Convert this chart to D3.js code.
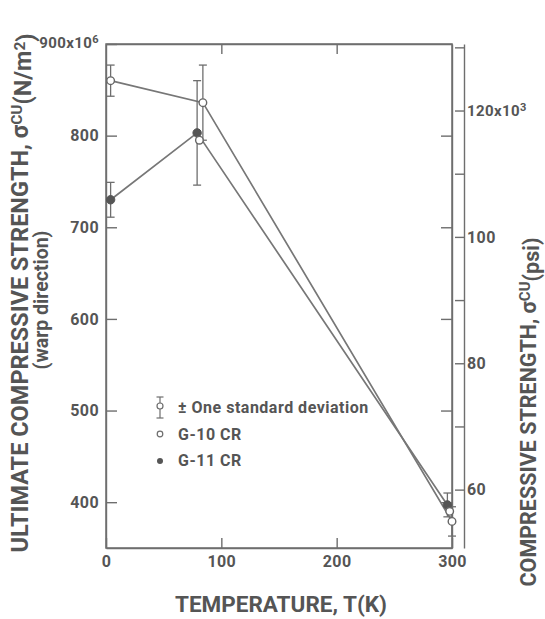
<!DOCTYPE html>
<html>
<head>
<meta charset="utf-8">
<script src="https://cdn.jsdelivr.net/npm/d3@7"></script>
<style>
  html, body { margin: 0; padding: 0; background: #ffffff; }
  svg text { font-family: Roboto, "DejaVu Sans", sans-serif; font-weight: bold; fill: #555; }
</style>
</head>
<body>
<svg id="chart" width="545" height="619"></svg>
<script>
// Compressive strength vs temperature, warp direction
const g10Temps = [4, 84, 300];          // K
const g10Strength = [860, 836, 379];    // MPa (x10^6 N/m^2)
const g10Sd = [17, 41, 16];

const g11Temps = [4, 79, 296];
const g11Strength = [730, 803, 397];
const g11Sd = [19, 57, 13];

// additional G-10 specimens plotted without a connecting line
const g10RepeatTemps = [81, 298];
const g10RepeatStrength = [795, 390];

const xTicks = [0, 100, 200, 300];
const mpaTicks = [400, 500, 600, 700, 800, 900];
const ksiTicks = [60, 70, 80, 90, 100, 110, 120, 130];
const ksiLabels = { 60: "60", 80: "80", 100: "100", 120: "120x10" };

const MPA_PER_KSI = 6.895;
const ink = "#6e6e6e";

const svg = d3.select("#chart");
const plotLeft = 106, plotRight = 452, plotTop = 44, plotBottom = 548;

const x = d3.scaleLinear().domain([0, 300]).range([plotLeft, plotRight]);
const y = d3.scaleLinear().domain([350, 900]).range([plotBottom, plotTop]);
const yKsi = d3.scaleLinear().domain([350 / MPA_PER_KSI, 900 / MPA_PER_KSI]).range([plotBottom, plotTop]);

function styleAxis(g) {
  g.selectAll("path, line").attr("stroke", ink).attr("stroke-width", 1.4);
  g.selectAll("text").attr("font-size", 16).attr("font-family", null).attr("fill", "#555")
    .attr("letter-spacing", 0.4);
}

// frame
svg.append("rect")
  .attr("x", plotLeft).attr("y", plotTop)
  .attr("width", plotRight - plotLeft).attr("height", plotBottom - plotTop)
  .attr("fill", "none").attr("stroke", ink).attr("stroke-width", 1.5);

// bottom axis
svg.append("g").attr("transform", `translate(0,${plotBottom})`)
  .call(d3.axisBottom(x).tickValues(xTicks).tickSize(-10).tickSizeOuter(0).tickPadding(8))
  .call(styleAxis);

// top axis (ticks only)
svg.append("g").attr("transform", `translate(0,${plotTop})`)
  .call(d3.axisTop(x).tickValues(xTicks.slice(1, 3)).tickSize(-10).tickSizeOuter(0).tickFormat(""))
  .call(styleAxis);

// left MPa axis
const leftAxis = svg.append("g").attr("transform", `translate(${plotLeft},0)`)
  .call(d3.axisLeft(y).tickValues(mpaTicks).tickSize(-11).tickSizeOuter(0).tickPadding(7))
  .call(styleAxis);
leftAxis.selectAll(".tick text").each(function (d) {
  if (d === 900) {
    const t = d3.select(this).text("900x10").attr("dy", "0.2em").attr("font-size", 15);
    t.append("tspan").attr("dy", "-0.45em").attr("font-size", 11).text("6");
  }
});

// right frame ticks
svg.append("g").attr("transform", `translate(${plotRight},0)`)
  .call(d3.axisRight(y).tickValues(mpaTicks.slice(0, 5)).tickSize(-11).tickSizeOuter(0).tickFormat(""))
  .call(styleAxis);

// psi axis
const psiAxis = svg.append("g").attr("transform", "translate(464,0)")
  .call(d3.axisRight(yKsi).tickValues(ksiTicks).tickSize(-9).tickSizeOuter(0).tickPadding(3)
    .tickFormat(d => ksiLabels[d] || ""))
  .call(styleAxis);
psiAxis.selectAll(".tick text").each(function (d) {
  if (d === 120) {
    d3.select(this).attr("font-size", 15)
      .append("tspan").attr("dy", "-0.45em").attr("font-size", 11).text("3");
  }
});

// series
const line = d3.line().x(d => x(d.t)).y(d => y(d.v));
function series(temps, vals, sds) {
  return temps.map((t, i) => ({ t, v: vals[i], sd: sds ? sds[i] : 0 }));
}
const g10 = series(g10Temps, g10Strength, g10Sd);
const g11 = series(g11Temps, g11Strength, g11Sd);
const g10Repeat = series(g10RepeatTemps, g10RepeatStrength);

[g11, g10].forEach(s => {
  svg.append("path").datum(s).attr("d", line)
    .attr("fill", "none").attr("stroke", "#777").attr("stroke-width", 1.7);
});

// error bars
function errorBars(s) {
  const g = svg.append("g").attr("stroke", ink).attr("stroke-width", 1.3);
  s.forEach(d => {
    g.append("line").attr("x1", x(d.t)).attr("x2", x(d.t)).attr("y1", y(d.v + d.sd)).attr("y2", y(d.v - d.sd));
    [d.v + d.sd, d.v - d.sd].forEach(v => {
      g.append("line").attr("x1", x(d.t) - 4).attr("x2", x(d.t) + 4).attr("y1", y(v)).attr("y2", y(v));
    });
  });
}
errorBars(g11);
errorBars(g10);

// markers
svg.append("g").selectAll("circle").data(g11).join("circle")
  .attr("cx", d => x(d.t)).attr("cy", d => y(d.v)).attr("r", 4.2)
  .attr("fill", "#555").attr("stroke", "#555");
svg.append("g").selectAll("circle").data(g10.concat(g10Repeat)).join("circle")
  .attr("cx", d => x(d.t)).attr("cy", d => y(d.v)).attr("r", 3.8)
  .attr("fill", "#fff").attr("stroke", "#666").attr("stroke-width", 1.4);

// legend
const lg = svg.append("g");
const lx = 160;
lg.append("line").attr("x1", lx).attr("x2", lx).attr("y1", 397).attr("y2", 418).attr("stroke", ink).attr("stroke-width", 1.2);
[397, 418].forEach(v => lg.append("line").attr("x1", lx - 3.5).attr("x2", lx + 3.5).attr("y1", v).attr("y2", v).attr("stroke", ink).attr("stroke-width", 1.2));
lg.append("circle").attr("cx", lx).attr("cy", 406).attr("r", 3).attr("fill", "#fff").attr("stroke", ink).attr("stroke-width", 1.2);
lg.append("circle").attr("cx", lx).attr("cy", 434).attr("r", 2.8).attr("fill", "#fff").attr("stroke", ink).attr("stroke-width", 1.2);
lg.append("circle").attr("cx", lx).attr("cy", 461).attr("r", 3).attr("fill", "#555");
const legendText = ["± One standard deviation", "G-10 CR", "G-11 CR"];
const legendY = [413, 440, 466];
lg.selectAll("text.lt").data(legendText).join("text").attr("class", "lt")
  .attr("x", 178).attr("y", (d, i) => legendY[i]).attr("font-size", 16)
  .attr("letter-spacing", 0.5).text(d => d);

// axis titles
svg.append("text").attr("x", 281).attr("y", 612).attr("text-anchor", "middle")
  .attr("font-size", 22.5).text("TEMPERATURE, T(K)");

const yt = svg.append("text").attr("transform", "translate(28,293) rotate(-90)")
  .attr("text-anchor", "middle").attr("font-size", 23.5);
yt.append("tspan").text("ULTIMATE COMPRESSIVE STRENGTH, σ");
yt.append("tspan").attr("dy", "-0.4em").attr("font-size", 15.5).text("CU");
yt.append("tspan").attr("dy", "0.4em").text("(N/m");
yt.append("tspan").attr("dy", "-0.4em").attr("font-size", 15.5).text("2");
yt.append("tspan").attr("dy", "0.4em").text(")");

svg.append("text").attr("transform", "translate(48,300) rotate(-90)")
  .attr("text-anchor", "middle").attr("font-size", 19.5).text("(warp direction)");

const rt = svg.append("text").attr("transform", "translate(536,412) rotate(-90)")
  .attr("text-anchor", "middle").attr("font-size", 21.5);
rt.append("tspan").text("COMPRESSIVE STRENGTH, σ");
rt.append("tspan").attr("dy", "-0.4em").attr("font-size", 15).text("CU");
rt.append("tspan").attr("dy", "0.4em").text("(psi)");
</script>
</body>
</html>
